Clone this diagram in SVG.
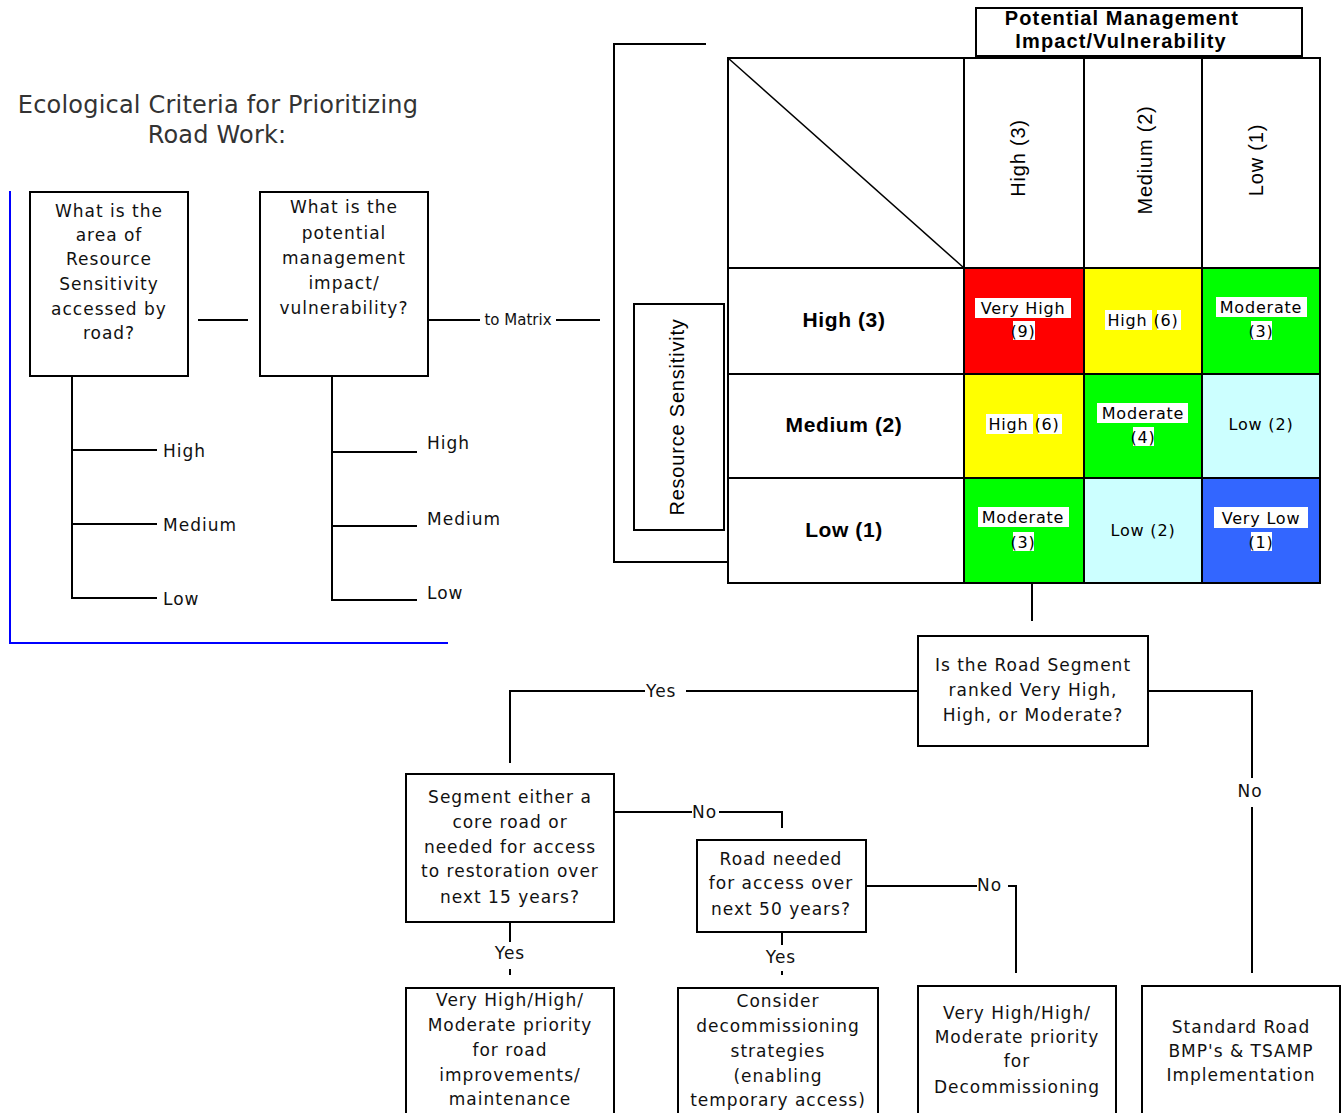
<svg xmlns="http://www.w3.org/2000/svg" width="1343" height="1113" viewBox="0 0 1343 1113">
<style>
.bx{fill:#fff;stroke:#000;stroke-width:2}
.ln{fill:none;stroke:#000;stroke-width:2}
.t{font-family:"DejaVu Sans",Verdana,sans-serif;font-size:17px;letter-spacing:1px;fill:#111;text-anchor:middle}
.tl{font-family:"DejaVu Sans",Verdana,sans-serif;font-size:17px;letter-spacing:1px;fill:#111}
.ttl{font-family:"DejaVu Sans",Verdana,sans-serif;font-size:24px;letter-spacing:0.2px;fill:#333;text-anchor:middle}
.ar{font-family:"Liberation Sans",Arial,sans-serif;font-size:20px;letter-spacing:0.8px;fill:#000;text-anchor:middle}
.ab{font-family:"Liberation Sans",Arial,sans-serif;font-size:21px;font-weight:bold;letter-spacing:0.6px;fill:#000;text-anchor:middle}
.hd{font-family:"Liberation Sans",Arial,sans-serif;font-size:20px;font-weight:bold;letter-spacing:1.1px;fill:#000;text-anchor:middle}
.ct{font-family:"DejaVu Sans",Verdana,sans-serif;font-size:16px;letter-spacing:0.8px;fill:#000;text-anchor:middle}
.hl{fill:#fff}
.sm{font-family:"DejaVu Sans",Verdana,sans-serif;font-size:15px;fill:#111;text-anchor:middle}
</style>

<g id="title">
<text class="ttl" x="218" y="113">Ecological Criteria for Prioritizing</text>
<text class="ttl" x="217" y="143">Road Work:</text>
</g>

<g id="frame-blue">
<polyline points="10,191 10,643 448,643" fill="none" stroke="#0000FF" stroke-width="2"/>
</g>

<g id="connectors">
<line class="ln" x1="198" y1="320" x2="248" y2="320"/>
<line class="ln" x1="428" y1="320" x2="480" y2="320"/>
<line class="ln" x1="556" y1="320" x2="600" y2="320"/>
<polyline class="ln" points="72,376 72,598 157,598"/>
<line class="ln" x1="72" y1="450" x2="157" y2="450"/>
<line class="ln" x1="72" y1="524" x2="157" y2="524"/>
<polyline class="ln" points="332,376 332,600 417,600"/>
<line class="ln" x1="332" y1="452" x2="417" y2="452"/>
<line class="ln" x1="332" y1="526" x2="417" y2="526"/>
<polyline class="ln" points="706,44 614,44 614,562 728,562"/>
<line class="ln" x1="1032" y1="562" x2="1032" y2="621"/>
<polyline class="ln" points="918,691 686,691"/>
<polyline class="ln" points="645,691 510,691 510,763"/>
<polyline class="ln" points="614,812 692,812"/>
<polyline class="ln" points="719,812 782,812 782,828"/>
<polyline class="ln" points="866,886 977,886"/>
<polyline class="ln" points="1008,886 1016,886 1016,973"/>
<polyline class="ln" points="1148,691 1252,691 1252,778"/>
<line class="ln" x1="1252" y1="807" x2="1252" y2="973"/>
<line class="ln" x1="510" y1="922" x2="510" y2="942"/>
<line class="ln" x1="510" y1="969" x2="510" y2="975"/>
<line class="ln" x1="782" y1="932" x2="782" y2="945"/>
<line class="ln" x1="782" y1="971" x2="782" y2="975"/>
<text class="sm" x="518" y="325">to Matrix</text>
<text class="tl" x="646" y="697" letter-spacing="2">Yes</text>
<text class="tl" x="692" y="818">No</text>
<text class="tl" x="977" y="891">No</text>
<text class="t" x="1250" y="797">No</text>
<text class="t" x="510" y="959">Yes</text>
<text class="t" x="781" y="963">Yes</text>
<text class="tl" x="163" y="457">High</text>
<text class="tl" x="163" y="531">Medium</text>
<text class="tl" x="163" y="605">Low</text>
<text class="tl" x="427" y="449">High</text>
<text class="tl" x="427" y="525">Medium</text>
<text class="tl" x="427" y="599">Low</text>
</g>

<g id="node-q1">
<rect class="bx" x="30" y="192" width="158" height="184"/>
<text class="t" x="109" y="217">What is the</text>
<text class="t" x="109" y="241">area of</text>
<text class="t" x="109" y="265">Resource</text>
<text class="t" x="109" y="290">Sensitivity</text>
<text class="t" x="109" y="315">accessed by</text>
<text class="t" x="109" y="339">road?</text>
</g>

<g id="node-q2">
<rect class="bx" x="260" y="192" width="168" height="184"/>
<text class="t" x="344" y="213">What is the</text>
<text class="t" x="344" y="239">potential</text>
<text class="t" x="344" y="264">management</text>
<text class="t" x="344" y="289">impact/</text>
<text class="t" x="344" y="314">vulnerability?</text>
</g>

<g id="node-header">
<rect class="bx" x="976" y="8" width="326" height="48"/>
<text class="hd" x="1122" y="25">Potential Management</text>
<text class="hd" x="1121" y="48">Impact/Vulnerability</text>
</g>

<g id="node-resource">
<rect class="bx" x="634" y="304" width="90" height="226"/>
<text class="ar" transform="translate(677,417) rotate(-90)" x="0" y="7">Resource Sensitivity</text>
</g>

<g id="node-matrix">
<rect x="728" y="58" width="592" height="525" fill="#fff"/>
<rect x="964" y="268" width="120" height="106" fill="#FF0000"/>
<rect x="1084" y="268" width="118" height="106" fill="#FFFF00"/>
<rect x="1202" y="268" width="118" height="106" fill="#00FF00"/>
<rect x="964" y="374" width="120" height="104" fill="#FFFF00"/>
<rect x="1084" y="374" width="118" height="104" fill="#00FF00"/>
<rect x="1202" y="374" width="118" height="104" fill="#CCFFFF"/>
<rect x="964" y="478" width="120" height="105" fill="#00FF00"/>
<rect x="1084" y="478" width="118" height="105" fill="#CCFFFF"/>
<rect x="1202" y="478" width="118" height="105" fill="#3366FF"/>
<g class="ln">
<rect x="728" y="58" width="592" height="525"/>
<line x1="964" y1="58" x2="964" y2="583"/>
<line x1="1084" y1="58" x2="1084" y2="583"/>
<line x1="1202" y1="58" x2="1202" y2="583"/>
<line x1="728" y1="268" x2="1320" y2="268"/>
<line x1="728" y1="374" x2="1320" y2="374"/>
<line x1="728" y1="478" x2="1320" y2="478"/>
</g>
<line x1="728" y1="58" x2="964" y2="268" stroke="#000" stroke-width="1.5"/>
<text class="ar" transform="translate(1018,158) rotate(-90)" x="0" y="7">High (3)</text>
<text class="ar" transform="translate(1145,160) rotate(-90)" x="0" y="7">Medium (2)</text>
<text class="ar" transform="translate(1256,160) rotate(-90)" x="0" y="7">Low (1)</text>
<text class="ab" x="844" y="327">High (3)</text>
<text class="ab" x="844" y="432">Medium (2)</text>
<text class="ab" x="844" y="537">Low (1)</text>
<rect class="hl" x="975" y="298" width="96" height="20"/>
<rect class="hl" x="1013" y="321" width="22" height="19"/>
<text class="ct" x="1023" y="314">Very High</text>
<text class="ct" x="1023" y="337">(9)</text>
<rect class="hl" x="1105" y="310" width="47" height="20"/>
<rect class="hl" x="1157" y="310" width="24" height="20"/>
<text class="ct" x="1143" y="326">High (6)</text>
<rect class="hl" x="1216" y="297" width="91" height="20"/>
<rect class="hl" x="1251" y="321" width="21" height="19"/>
<text class="ct" x="1261" y="313">Moderate</text>
<text class="ct" x="1261" y="337">(3)</text>
<rect class="hl" x="986" y="414" width="47" height="20"/>
<rect class="hl" x="1038" y="414" width="24" height="20"/>
<text class="ct" x="1024" y="430">High (6)</text>
<rect class="hl" x="1097" y="403" width="91" height="20"/>
<rect class="hl" x="1133" y="427" width="21" height="19"/>
<text class="ct" x="1143" y="419">Moderate</text>
<text class="ct" x="1143" y="443">(4)</text>
<text class="ct" x="1261" y="430">Low (2)</text>
<rect class="hl" x="978" y="507" width="91" height="20"/>
<rect class="hl" x="1013" y="532" width="21" height="19"/>
<text class="ct" x="1023" y="523">Moderate</text>
<text class="ct" x="1023" y="548">(3)</text>
<text class="ct" x="1143" y="536">Low (2)</text>
<rect class="hl" x="1214" y="507" width="94" height="21"/>
<rect class="hl" x="1251" y="532" width="21" height="19"/>
<text class="ct" x="1261" y="524">Very Low</text>
<text class="ct" x="1261" y="548">(1)</text>
</g>

<g id="node-decision">
<rect class="bx" x="918" y="636" width="230" height="110"/>
<text class="t" x="1033" y="671">Is the Road Segment</text>
<text class="t" x="1033" y="696">ranked Very High,</text>
<text class="t" x="1033" y="721">High, or Moderate?</text>
</g>

<g id="node-core">
<rect class="bx" x="406" y="774" width="208" height="148"/>
<text class="t" x="510" y="803">Segment either a</text>
<text class="t" x="510" y="828">core road or</text>
<text class="t" x="510" y="853">needed for access</text>
<text class="t" x="510" y="877">to restoration over</text>
<text class="t" x="510" y="903">next 15 years?</text>
</g>

<g id="node-50yr">
<rect class="bx" x="697" y="840" width="169" height="92"/>
<text class="t" x="781" y="865">Road needed</text>
<text class="t" x="781" y="889">for access over</text>
<text class="t" x="781" y="915">next 50 years?</text>
</g>

<g id="node-improve">
<rect class="bx" x="406" y="988" width="208" height="135"/>
<text class="t" x="510" y="1006">Very High/High/</text>
<text class="t" x="510" y="1031">Moderate priority</text>
<text class="t" x="510" y="1056">for road</text>
<text class="t" x="510" y="1081">improvements/</text>
<text class="t" x="510" y="1105">maintenance</text>
</g>

<g id="node-consider">
<rect class="bx" x="678" y="988" width="200" height="135"/>
<text class="t" x="778" y="1007">Consider</text>
<text class="t" x="778" y="1032">decommissioning</text>
<text class="t" x="778" y="1057">strategies</text>
<text class="t" x="778" y="1082">(enabling</text>
<text class="t" x="778" y="1106">temporary access)</text>
</g>

<g id="node-decom">
<rect class="bx" x="918" y="986" width="198" height="137"/>
<text class="t" x="1017" y="1019">Very High/High/</text>
<text class="t" x="1017" y="1043">Moderate priority</text>
<text class="t" x="1017" y="1067">for</text>
<text class="t" x="1017" y="1093">Decommissioning</text>
</g>

<g id="node-standard">
<rect class="bx" x="1142" y="986" width="198" height="137"/>
<text class="t" x="1241" y="1033">Standard Road</text>
<text class="t" x="1241" y="1057">BMP's &amp; TSAMP</text>
<text class="t" x="1241" y="1081">Implementation</text>
</g>
</svg>
